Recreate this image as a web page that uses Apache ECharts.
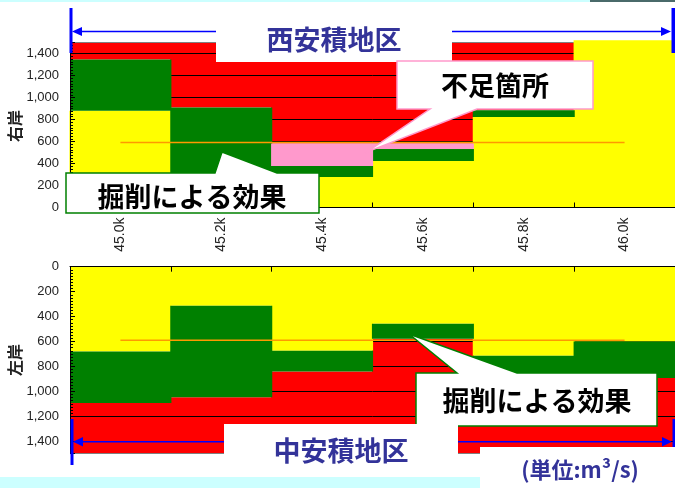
<!DOCTYPE html>
<html><head><meta charset="utf-8">
<script src="https://cdn.jsdelivr.net/npm/echarts@6/dist/echarts.min.js"></script>
<style>html,body{margin:0;padding:0;background:#fff}#c{width:675px;height:488px}</style>
</head><body><div id="c"></div>
<script>
const categories = ['45.0k', '45.2k', '45.4k', '45.6k', '45.8k', '46.0k'];
// Right bank (upper panel): cumulative top of each coloured layer (m3/s)
const rightYellowTop = [880, 300, 278, 423, 822, 1520];
const rightGreenTop  = [1345, 910, 378, 532, 883, 1520];
const rightPinkTop   = [1345, 910, 582, 582, 883, 1520];
const rightRedTop    = [1500, 1500, 1500, 1500, 1500, 1520];
// Left bank (lower panel, inverted axis)
const leftYellowTop = [680, 314, 675, 458, 714, 600];
const leftGreenTop  = [1093, 1048, 840, 578, 950, 893];
const leftRedTop    = [1500, 1500, 1500, 1500, 1500, 1500];
// Design flow line
const designFlow = [590, 590, 590, 590, 590, 590];
const yMin = 0, yMax = 1500, yInterval = 200;

const diff = (a, b) => a.map((v, i) => v - b[i]);
const fmt = v => v.toLocaleString('en-US');
const FONT = '"Liberation Sans", Arial, sans-serif';
const CJK = '"Noto Sans CJK JP", sans-serif';

const chart = echarts.init(document.getElementById('c'), null, {renderer: 'canvas'});

const splitColors = ['#000','#000','#000','#000','#000','#000','#000','#000','#808080'];
function splitAxis(grid, inverse) {
  return {type: 'value', gridIndex: grid, position: 'left', min: yMin, max: yMax, interval: yInterval, inverse: inverse, z: 2,
    axisLine: {show: false}, axisTick: {show: false}, axisLabel: {show: false},
    splitLine: {show: true, lineStyle: {color: splitColors, width: 1}}};
}
function labelAxis(grid, inverse) {
  return {type: 'value', gridIndex: grid, position: 'left', min: yMin, max: yMax, interval: yInterval, inverse: inverse, z: 6,
    axisLine: {show: true, onZero: false, lineStyle: {color: '#000', width: 1}},
    axisTick: {show: true, inside: true, length: 5, lineStyle: {color: '#000'}},
    minorTick: {show: true, splitNumber: 8, length: 3, lineStyle: {color: '#000'}},
    axisLabel: {formatter: fmt, color: '#222', fontSize: 13, fontFamily: FONT, margin: 11, showMaxLabel: false},
    splitLine: {show: false}};
}
function bar(grid, stack, data, color, z, clip) {
  return {type: 'bar', xAxisIndex: grid, yAxisIndex: grid * 2, stack: stack, data: data,
    barWidth: 102, barCategoryGap: '0%', z: z, clip: clip !== false,
    itemStyle: {color: color}, emphasis: {disabled: true}};
}

const G = [];
const Z = 100;
// top strip
G.push({type: 'rect', z: Z, shape: {x: 0, y: 0, width: 590, height: 2}, style: {fill: '#ccffff'}});
G.push({type: 'rect', z: Z, shape: {x: 590, y: 0, width: 85, height: 2}, style: {fill: '#4a6a6a'}});
// top arrow
G.push({type: 'line', z: Z, shape: {x1: 80, y1: 31.5, x2: 663, y2: 31.5}, style: {stroke: '#0000ff', lineWidth: 1.5}});
G.push({type: 'polygon', z: Z, shape: {points: [[72, 31.5], [82, 27], [82, 36]]}, style: {fill: '#0000ff'}});
G.push({type: 'polygon', z: Z, shape: {points: [[671, 31.5], [661, 27], [661, 36]]}, style: {fill: '#0000ff'}});
G.push({type: 'rect', z: Z, shape: {x: 69.5, y: 8, width: 3, height: 45}, style: {fill: '#0000ff'}});
G.push({type: 'rect', z: Z, shape: {x: 671.5, y: 8, width: 4, height: 45}, style: {fill: '#0000ff'}});
// top title box
G.push({type: 'rect', z: Z, shape: {x: 216, y: 12, width: 236, height: 50}, style: {fill: '#fff'}});
G.push({type: 'text', z: Z, x: 334, y: 40, style: {text: '西安積地区', fill: '#333399', font: 'bold 27px ' + CJK, align: 'center', verticalAlign: 'middle'}});
// 不足箇所 callout
G.push({type: 'polygon', z: Z, shape: {points: [[397, 61], [593, 61], [593, 109], [477, 109], [367, 152], [430, 109], [397, 109]]},
  style: {fill: '#fff', stroke: '#ff99cc', lineWidth: 1.5}});
G.push({type: 'text', z: Z, x: 495, y: 86, style: {text: '不足箇所', fill: '#000', font: 'bold 27px ' + CJK, align: 'center', verticalAlign: 'middle'}});
// top 掘削 callout
G.push({type: 'polygon', z: Z, shape: {points: [[66, 173], [215, 173], [222, 152], [277, 173], [319, 173], [319, 213], [66, 213]]},
  style: {fill: '#fff', stroke: '#008000', lineWidth: 1.5}});
G.push({type: 'text', z: Z, x: 192, y: 197, style: {text: '掘削による効果', fill: '#000', font: 'bold 27px ' + CJK, align: 'center', verticalAlign: 'middle'}});
// bottom 掘削 callout
G.push({type: 'polygon', z: Z, shape: {points: [[416, 373], [457, 373], [409, 334], [517, 373], [657, 373], [657, 426], [416, 426]]},
  style: {fill: '#fff', stroke: '#008000', lineWidth: 1.5}});
G.push({type: 'text', z: Z, x: 537, y: 401, style: {text: '掘削による効果', fill: '#000', font: 'bold 27px ' + CJK, align: 'center', verticalAlign: 'middle'}});
// bottom arrow
G.push({type: 'line', z: Z, shape: {x1: 82, y1: 441.7, x2: 663, y2: 441.7}, style: {stroke: '#0000ff', lineWidth: 1.5}});
G.push({type: 'polygon', z: Z, shape: {points: [[73, 441.7], [83, 437], [83, 446.5]]}, style: {fill: '#0000ff'}});
G.push({type: 'polygon', z: Z, shape: {points: [[672, 441.7], [662, 437], [662, 446.5]]}, style: {fill: '#0000ff'}});
G.push({type: 'rect', z: Z, shape: {x: 70.5, y: 419, width: 3, height: 46}, style: {fill: '#0000ff'}});
G.push({type: 'rect', z: Z, shape: {x: 672.5, y: 419, width: 3, height: 46}, style: {fill: '#0000ff'}});
// bottom title box
G.push({type: 'rect', z: Z, shape: {x: 224, y: 424, width: 234, height: 53}, style: {fill: '#fff'}});
G.push({type: 'text', z: Z, x: 341, y: 451, style: {text: '中安積地区', fill: '#333399', font: 'bold 27px ' + CJK, align: 'center', verticalAlign: 'middle'}});
// bottom strip + unit box
G.push({type: 'rect', z: Z, shape: {x: 0, y: 477, width: 480, height: 11}, style: {fill: '#ccffff'}});
G.push({type: 'rect', z: Z, shape: {x: 480, y: 447, width: 195, height: 41}, style: {fill: '#fff'}});
G.push({type: 'text', z: Z, x: 580, y: 470, style: {text: '(単位:m³/s)', fill: '#333399', font: 'bold 22px ' + CJK, align: 'center', verticalAlign: 'middle'}});
// axis names
G.push({type: 'text', z: Z, x: 15, y: 126, rotation: Math.PI / 2, style: {text: '右岸', fill: '#222', font: 'bold 16px ' + CJK, align: 'center', verticalAlign: 'middle'}});
G.push({type: 'text', z: Z, x: 15, y: 360, rotation: Math.PI / 2, style: {text: '左岸', fill: '#222', font: 'bold 16px ' + CJK, align: 'center', verticalAlign: 'middle'}});

const option = {
  animation: false,
  backgroundColor: '#fff',
  grid: [
    {left: 70, top: 42.5, width: 605, height: 165, containLabel: false, outerBoundsMode: 'none'},
    {left: 70, top: 266.7, width: 605, height: 187, containLabel: false, outerBoundsMode: 'none'}
  ],
  xAxis: [
    {type: 'category', gridIndex: 0, data: categories, position: 'bottom', z: 6,
      axisLine: {show: true, onZero: false, lineStyle: {color: '#000'}},
      axisTick: {show: true, inside: true, length: 5, lineStyle: {color: '#000'}},
      axisLabel: {rotate: 90, margin: 10, fontSize: 14, color: '#222', fontFamily: FONT},
      splitLine: {show: false}},
    {type: 'category', gridIndex: 1, data: categories, position: 'top', z: 6,
      axisLine: {show: true, onZero: false, lineStyle: {color: '#000'}},
      axisTick: {show: true, inside: true, length: 5, lineStyle: {color: '#000'}},
      axisLabel: {show: false}, splitLine: {show: false}}
  ],
  yAxis: [splitAxis(0, false), labelAxis(0, false), splitAxis(1, true), labelAxis(1, true)],
  series: [
    bar(0, 'r', rightYellowTop, '#ffff00', 3, false),
    bar(0, 'r', diff(rightGreenTop, rightYellowTop), '#008000', 3),
    bar(0, 'r', diff(rightPinkTop, rightGreenTop), '#ff99cc', 3),
    bar(0, 'r', diff(rightRedTop, rightPinkTop), '#ff0000', 1),
    {type: 'line', xAxisIndex: 0, yAxisIndex: 0, data: designFlow, symbol: 'none', z: 4,
      lineStyle: {color: '#ff9900', width: 1.5}, emphasis: {disabled: true}},
    bar(1, 'l', leftYellowTop, '#ffff00', 3),
    bar(1, 'l', diff(leftGreenTop, leftYellowTop), '#008000', 3),
    bar(1, 'l', diff(leftRedTop, leftGreenTop), '#ff0000', 1),
    {type: 'line', xAxisIndex: 1, yAxisIndex: 2, data: designFlow, symbol: 'none', z: 4,
      lineStyle: {color: '#ff9900', width: 1.5}, emphasis: {disabled: true}}
  ],
  graphic: G
};
chart.setOption(option);
</script></body></html>
